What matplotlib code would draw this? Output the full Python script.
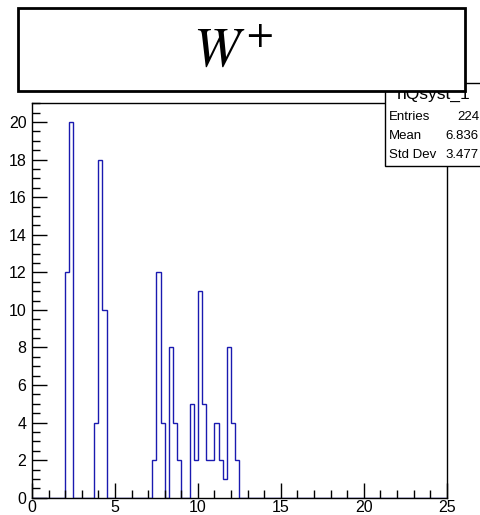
import matplotlib
matplotlib.use("Agg")
import matplotlib.pyplot as plt
from matplotlib.patches import Rectangle
from matplotlib.ticker import MultipleLocator
import numpy as np

plt.rcParams['font.family'] = ['Liberation Sans', 'DejaVu Sans']
plt.rcParams['mathtext.fontset'] = 'stix'

# histogram: 100 bins of 0.25 from 0 to 25, only filled bins listed
x_min, x_max, n_bins = 0.0, 25.0, 100
bin_left = [2.0, 2.25, 3.75, 4.0, 4.25, 7.25, 7.5, 7.75, 8.25, 8.5, 8.75,
            9.5, 9.75, 10.0, 10.25, 10.5, 10.75, 11.0, 11.25, 11.5, 11.75,
            12.0, 12.25]
bin_count = [12, 20, 4, 18, 10, 2, 12, 4, 8, 4, 2,
             5, 2, 11, 5, 2, 2, 4, 2, 1, 8,
             4, 2]

hist_name = "hQsyst_1"
stat_labels = ["Entries", "Mean", "Std Dev"]
stat_values = ["224", "6.836", "3.477"]
title = r"$W^{\!+}$"

edges = np.linspace(x_min, x_max, n_bins + 1)
counts = np.zeros(n_bins)
width = (x_max - x_min) / n_bins
for lo, c in zip(bin_left, bin_count):
    counts[int(round((lo - x_min) / width))] = c

W, H = 481, 515
fig = plt.figure(figsize=(W / 100, H / 100), dpi=100)

# main frame
ax = fig.add_axes([32 / W, 1 - 497.7 / H, (446.7 - 32) / W, (497.7 - 103.3) / H])
ax.stairs(counts, edges, color='#1a1ab0', linewidth=1.0)
ax.set_xlim(x_min, x_max)
ax.set_ylim(0, 21)
ax.xaxis.set_major_locator(MultipleLocator(5))
ax.xaxis.set_minor_locator(MultipleLocator(1))
ax.yaxis.set_major_locator(MultipleLocator(2))
ax.yaxis.set_minor_locator(MultipleLocator(0.5))
ax.tick_params(which='major', direction='in', length=11, width=1, labelsize=11.5)
ax.tick_params(axis='y', which='major', pad=4)
ax.tick_params(axis='x', which='major', pad=1.5)
ax.tick_params(which='minor', direction='in', length=5.5, width=1)
for s in ax.spines.values():
    s.set_linewidth(1)

# stats box (runs off the right edge)
sx0, sy0, sx1, sy1 = 385, 83, 484, 166
fig.patches.append(Rectangle((sx0 / W, 1 - sy1 / H), (sx1 - sx0) / W, (sy1 - sy0) / H,
                             transform=fig.transFigure, facecolor='white',
                             edgecolor='black', linewidth=1, zorder=5, clip_on=False))
fig.text(434 / W, 1 - 94 / H, hist_name, ha='center', va='center', fontsize=12.5, zorder=6)
for i, (lab, val) in enumerate(zip(stat_labels, stat_values)):
    yy = 1 - (117 + 19 * i) / H
    fig.text(389 / W, yy, lab, ha='left', va='center', fontsize=9.5, zorder=6)
    fig.text(479 / W, yy, val, ha='right', va='center', fontsize=9.5, zorder=6)

# title box
tx0, ty0, tx1, ty1 = 18, 8.5, 465, 91
fig.patches.append(Rectangle((tx0 / W, 1 - ty1 / H), (tx1 - tx0) / W, (ty1 - ty0) / H,
                             transform=fig.transFigure, facecolor='white',
                             edgecolor='black', linewidth=2, zorder=7))
fig.text(233 / W, 1 - 52 / H, title, ha='center', va='center', fontsize=40, zorder=8)

fig.savefig("out.png", dpi=100)
